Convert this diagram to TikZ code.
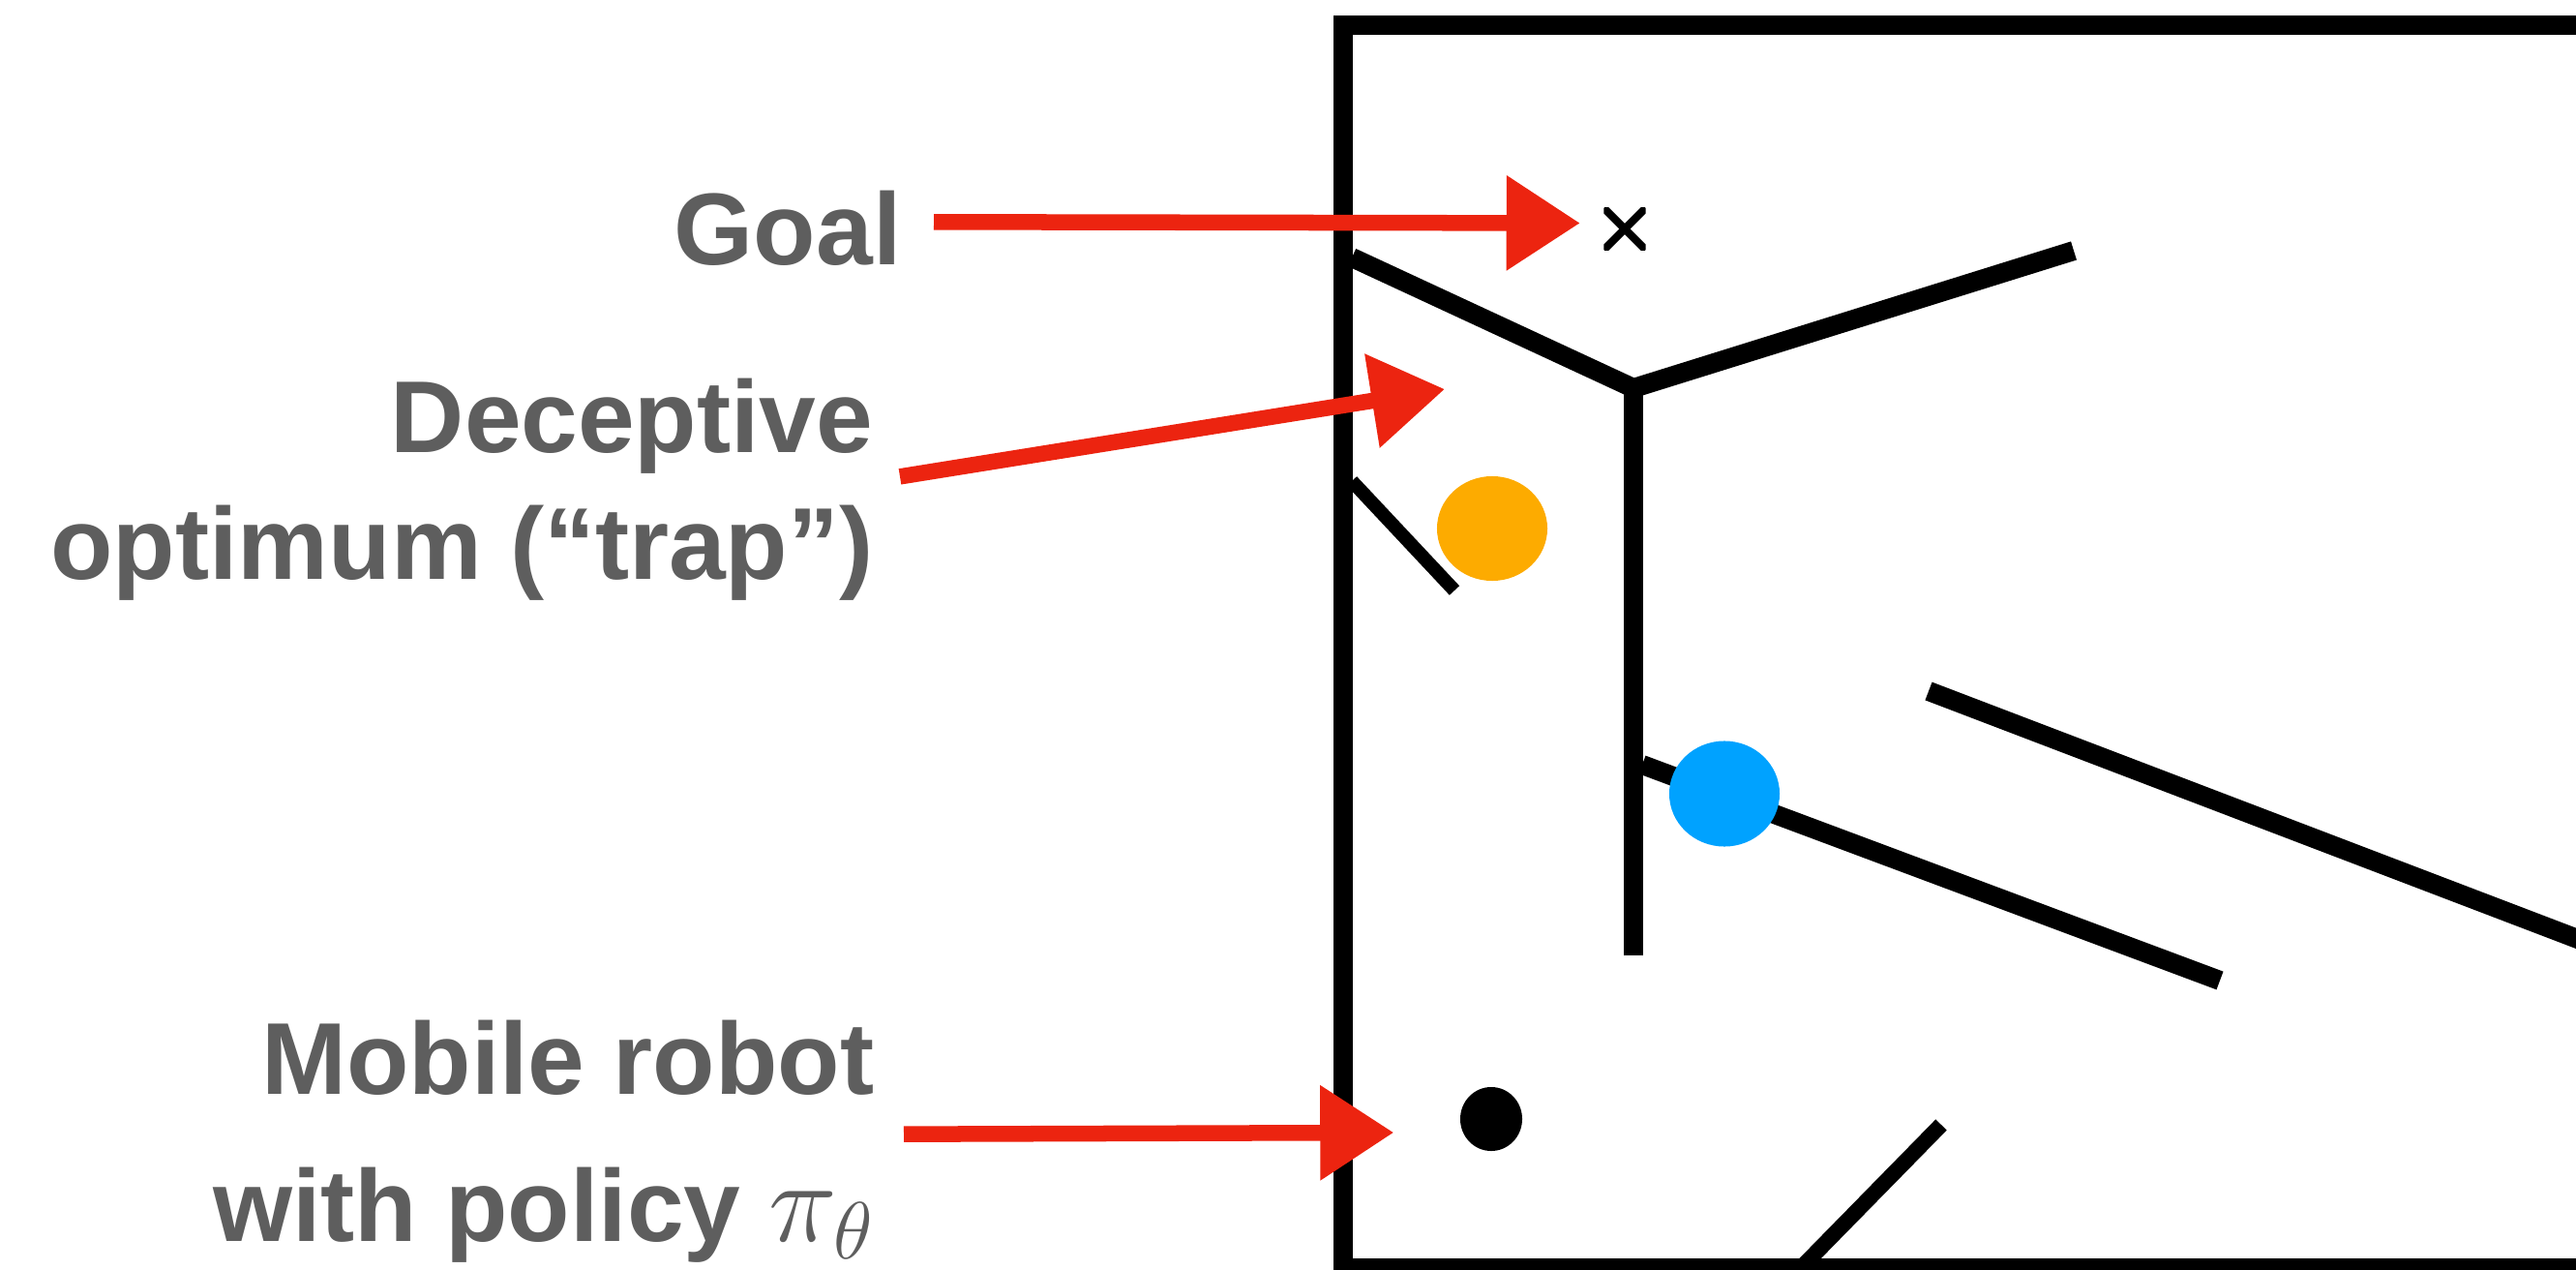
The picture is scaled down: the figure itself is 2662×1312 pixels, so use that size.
\RequirePackage{fix-cm}
\documentclass[tikz,border=0pt]{standalone}
\usepackage{fontspec}
\setmainfont{Liberation Sans}
\usetikzlibrary{arrows.meta,shapes.geometric}
\definecolor{labelgray}{HTML}{5E5E5E}
\definecolor{chalkred}{HTML}{EC2410}
\definecolor{traporange}{HTML}{FDAB00}
\definecolor{agentblue}{HTML}{00A2FF}
\begin{document}
\begin{tikzpicture}[x=0.01cm,y=-0.01cm,
  lbl/.style={font=\fontsize{30}{37.3}\selectfont\bfseries, text=labelgray, inner sep=0pt},
  border/.style={line width=0.2cm, line join=miter},
  wall/.style={line width=0.2cm, line cap=butt, line join=miter},
  thinwall/.style={line width=0.14cm, line cap=butt},
  midwall/.style={line width=0.2cm, line cap=butt},
  lowwall/.style={line width=0.16cm, line cap=butt},
  redarrow/.style={draw=chalkred, line width=0.165cm, line cap=butt,
    -{Triangle[width=0.94cm,length=0.76cm]}},
  dotnode/.style={ellipse, inner sep=0pt}]
\useasboundingbox (0,0) rectangle (2662,1312);
\clip (0,0) rectangle (2662,1312);

% maze outline
\draw[border] (2800,26) -- (1387.5,26) -- (1387.5,1310) -- (2800,1310);

% walls
\draw[wall] (1397,266) -- (1688,401) -- (2143,259);
\draw[wall] (1688,401) -- (1688,987);
\draw[thinwall] (1397,497) -- (1503,610);
\draw[midwall] (1697,790) -- (2294,1013);
\draw[wall] (1993,714) -- (2800,1022);
\draw[lowwall] (2006,1162) -- (1853,1318);

% markers
\node[minimum size=0.43cm, inner sep=0pt,
  path picture={\draw[line width=0.08cm]
    (path picture bounding box.north west) -- (path picture bounding box.south east)
    (path picture bounding box.north east) -- (path picture bounding box.south west);}]
  (goal) at (1679,236.5) {};
\node[dotnode, fill=traporange, minimum width=1.14cm, minimum height=1.08cm] (trap) at (1542,546) {};
\node[dotnode, fill=agentblue, minimum width=1.14cm, minimum height=1.09cm] (agent) at (1782,820) {};
\node[dotnode, fill=black, minimum width=0.64cm, minimum height=0.66cm] (robot) at (1541,1156) {};
\coordinate (trapmouth) at (1493,402);

% labels
\node[lbl, anchor=base east] (goallabel) at (932,273) {Goal};
\node[lbl, anchor=base east] (traplabel) at (903,467)
  {\begin{tabular}[t]{@{}r@{}}Deceptive\\optimum (“trap”)\end{tabular}};
\node[lbl, font=\fontsize{30}{43.3}\selectfont\bfseries, anchor=base east] (robotlabel) at (904,1130)
  {\begin{tabular}[t]{@{}r@{}}Mobile robot\\with policy {\fontsize{34}{40}\selectfont$\pi_\theta$}\end{tabular}};

% pointers
\draw[redarrow] ([shift={(33,-6)}]goallabel.east) -- ([shift={(-24,-6)}]goal.west);
\draw[redarrow] ([shift={(27,-14)}]traplabel.east) -- (trapmouth);
\draw[redarrow] ([shift={(30,-4)}]robotlabel.east) -- ([shift={(-68,14)}]robot.west);
\end{tikzpicture}
\end{document}
